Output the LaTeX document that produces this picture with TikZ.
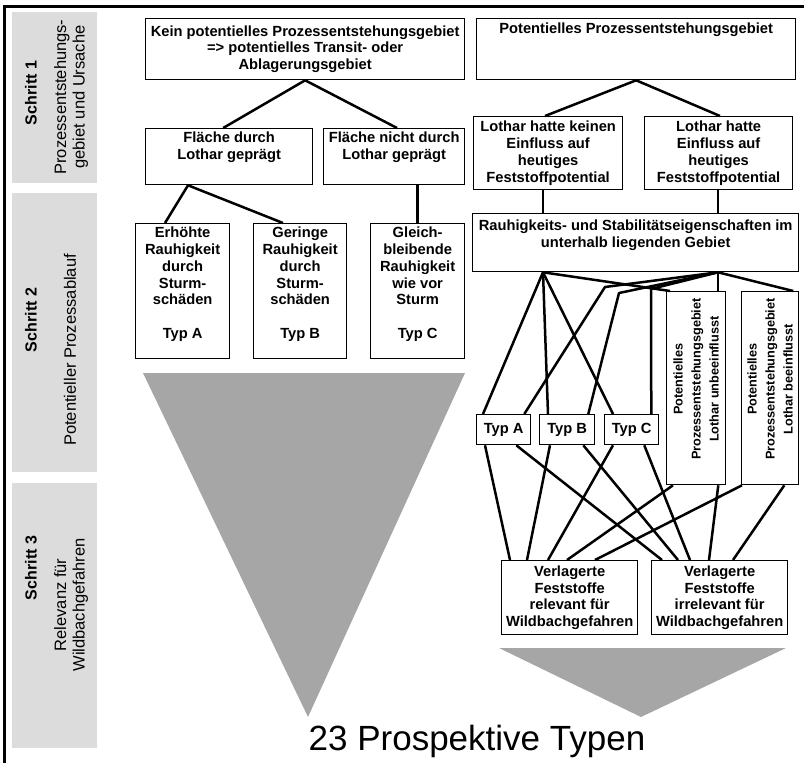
\documentclass[tikz,border=0pt]{standalone}
\usepackage{fontspec}
\setmainfont{Liberation Sans}
\usetikzlibrary{calc}
\definecolor{sidegray}{RGB}{220,220,220}
\definecolor{trigray}{RGB}{166,166,166}
\tikzset{
  box/.style={draw, line width=1.3pt, inner sep=0pt, fill=white, font=\bfseries\fontsize{14.7}{16.7}\selectfont},
  conn/.style={line width=2.5pt, line join=round},
  sidehead/.style={rotate=90, font=\bfseries\fontsize{16}{18}\selectfont},
  sidetext/.style={rotate=90, align=center, font=\fontsize{16.5}{18.5}\selectfont},
  talltext/.style={rotate=90, align=center, font=\bfseries\fontsize{12.7}{18}\selectfont},
}
\newcommand\bxt[7]{\node[box,anchor=north west] (#1) at (#2,#3) {\parbox[c][\dimexpr#5pt-#3pt\relax][t]{\dimexpr#4pt-#2pt\relax}{\centering\vspace*{#6pt}\strut#7\par}};}
\newcommand\bxc[6]{\node[box,anchor=north west] (#1) at (#2,#3) {\parbox[c][\dimexpr#5pt-#3pt\relax][c]{\dimexpr#4pt-#2pt\relax}{\centering#6\par}};}
\begin{document}
\begin{tikzpicture}[x=1pt,y=-1pt]
\useasboundingbox (0,0) rectangle (804,763);
\draw[line width=3pt] (4,763) -- (4,6) -- (804,6);
% sidebar
\fill[sidegray] (12,12) rectangle (97,183);
\fill[sidegray] (12,193) rectangle (97,472);
\fill[sidegray] (12,483) rectangle (97,748);
\node[sidehead] (s1a) at (31,93) {Schritt 1};
\node[sidetext] (s1b) at (71,97) {Prozessentstehungs-\\gebiet und Ursache};
\node[sidehead] (s2a) at (31,320) {Schritt 2};
\node[sidetext] (s2b) at (70,350) {Potentieller Prozessablauf};
\node[sidehead] (s3a) at (31,568) {Schritt 3};
\node[sidetext] (s3b) at (71,605) {Relevanz für\\Wildbachgefahren};
% triangles
\fill[trigray] (143,373) -- (465,373) -- (308,717) -- cycle;
\fill[trigray] (499,648) -- (786,648) -- (641,717) -- cycle;
% left boxes
\bxc{kein}{145}{18}{464}{79}{Kein potentielles Prozessentstehungsgebiet\\=> potentielles Transit- oder\\Ablagerungsgebiet}
\bxt{fl1}{145}{128}{312}{184}{2.6}{Fläche durch\\Lothar geprägt}
\bxt{fl2}{323}{128}{464}{184}{2.6}{Fläche nicht durch\\Lothar  geprägt}
\bxt{erh}{135}{223}{229}{358}{2.6}{Erhöhte\\Rauhigkeit\\durch\\Sturm-\\schäden\\[16.7pt]Typ A}
\bxt{ger}{253}{223}{346}{358}{2.6}{Geringe\\Rauhigkeit\\durch\\Sturm-\\schäden\\[16.7pt]Typ B}
\bxt{gle}{370}{223}{464}{358}{2.6}{Gleich-\\bleibende\\Rauhigkeit\\wie vor\\Sturm\\[16.7pt]Typ C}
% right boxes
\bxt{pot}{476}{18}{795}{79}{3.6}{Potentielles Prozessentstehungsgebiet}
\bxc{lo1}{473}{116}{622}{189}{Lothar hatte keinen\\Einfluss auf\\heutiges\\Feststoffpotential}
\bxc{lo2}{644}{116}{792}{189}{Lothar hatte\\Einfluss auf\\heutiges\\Feststoffpotential}
\bxt{rau}{472}{213}{798}{271}{5.6}{Rauhigkeits- und Stabilitätseigenschaften im\\unterhalb liegenden Gebiet}
\bxc{tA}{476}{414}{530}{444}{Typ A}
\bxc{tB}{539}{414}{594}{444}{Typ B}
\bxc{tC}{604}{414}{658}{444}{Typ C}
\node[box, anchor=north west, minimum width=59pt, minimum height=193pt] (t1) at (666,291) {};
\node[box, anchor=north west, minimum width=57pt, minimum height=193pt] (t2) at (741,291) {};
\node[talltext] (t1x) at ([yshift=9pt]t1.center) {Potentielles\\Prozessentstehungsgebiet\\Lothar unbeeinflusst};
\node[talltext] (t2x) at ([yshift=9pt]t2.center) {Potentielles\\Prozessentstehungsgebiet\\Lothar beeinflusst};
\bxc{rel}{501}{560}{637}{634}{Verlagerte\\Feststoffe\\relevant für\\Wildbachgefahren}
\bxc{irr}{651}{560}{787}{634}{Verlagerte\\Feststoffe\\irrelevant für\\Wildbachgefahren}
% connectors left
\draw[conn] (kein.south) -- ([xshift=-6pt]fl1.north);
\draw[conn] (kein.south) -- ([xshift=74pt]fl2.north west);
\coordinate (f1) at ([xshift=43pt]fl1.south west);
\draw[conn] (f1) -- ([xshift=30pt]erh.north west);
\draw[conn] (f1) -- ([xshift=30pt]ger.north west);
\draw[conn] (gle.north |- fl2.south) -- (gle.north);
% connectors right top
\draw[conn] (pot.south) -- ([xshift=72pt]lo1.north west);
\draw[conn] (pot.south) -- ([xshift=76pt]lo2.north west);
\coordinate (s1) at ([xshift=71pt]rau.south west);
\coordinate (s2) at ([xshift=246pt]rau.south west);
\draw[conn] (s1 |- rau.north) -- (s1 |- lo1.south);
\draw[conn] (s2 |- rau.north) -- (s2 |- lo2.south);
% fan
\coordinate (b1) at (605,287);
\coordinate (b2) at (619,293);
\coordinate (b3) at (651,289);
\draw[conn] (s1) -- ([xshift=7pt]tA.north west);
\draw[conn] (s1) -- ([xshift=9pt]tB.north west);
\draw[conn] (s1) -- ([xshift=9pt]tC.north west);
\draw[conn] (s1) -- ([xshift=4pt]t1.north west);
\draw[conn] (s2) -- (b1) -- ([xshift=-7pt]tA.north east);
\draw[conn] (s2) -- (b2) -- ([xshift=-7pt]tB.north east);
\draw[conn] (s2) -- (b3) -- ([xshift=-8pt]tC.north east);
\draw[conn] (s2) -- (s2 |- t1.north);
\draw[conn] (s2) -- ([xshift=-6pt]t2.north east);
% bottom
\draw[conn] ([xshift=9pt]tA.south west) -- ([xshift=9pt]rel.north west);
\draw[conn] ([xshift=-15pt]tA.south east) -- ([xshift=11pt]irr.north west);
\draw[conn] ([xshift=11pt]tB.south west) -- ([xshift=26pt]rel.north west);
\draw[conn] ([xshift=-12pt]tB.south east) -- ([xshift=27pt]irr.north west);
\draw[conn] ([xshift=9pt]tC.south west) -- ([xshift=47pt]rel.north west);
\draw[conn] ([xshift=-15pt]tC.south east) -- ([xshift=39pt]irr.north west);
\draw[conn] ([xshift=7pt]t1.south west) -- ([xshift=66pt]rel.north west);
\draw[conn] ([xshift=-8pt]t1.south east) -- ([xshift=58pt]irr.north west);
\draw[conn] ([xshift=1pt]t2.south west) -- ([xshift=94pt]rel.north west);
\draw[conn] ([xshift=-15pt]t2.south east) -- ([xshift=82pt]irr.north west);
% title
\node[font=\fontsize{35}{40}\selectfont, anchor=base] (title) at (477,750) {23 Prospektive Typen};
\end{tikzpicture}
\end{document}
